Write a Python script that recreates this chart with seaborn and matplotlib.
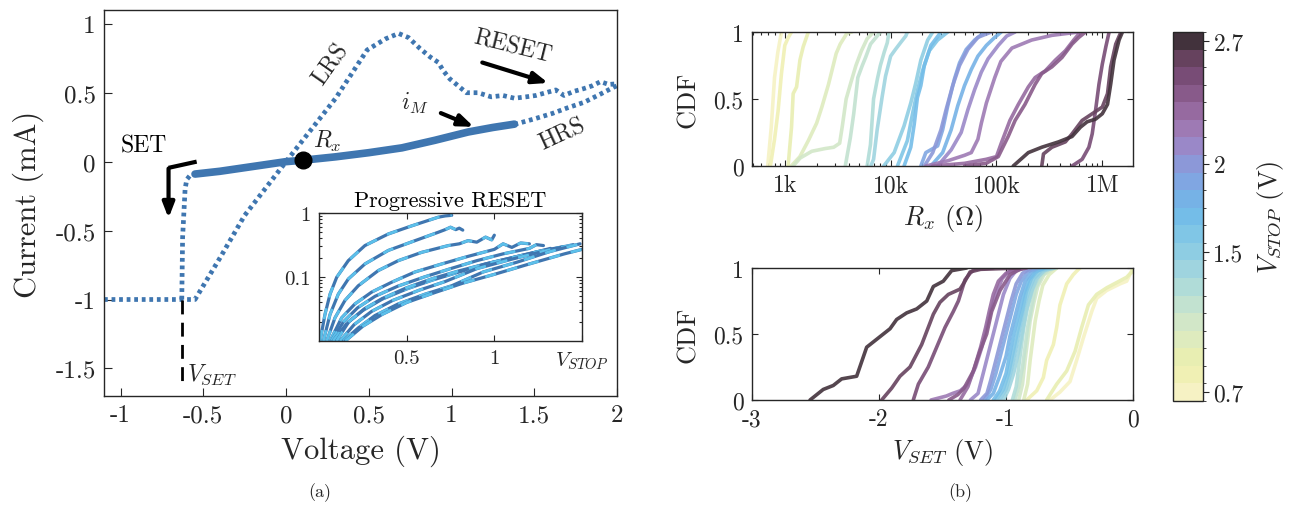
import numpy as np
import pandas as pd
import matplotlib
matplotlib.use("Agg")
import matplotlib.pyplot as plt
import seaborn as sns
from matplotlib.colors import ListedColormap, BoundaryNorm
from matplotlib.cm import ScalarMappable
from matplotlib.ticker import FixedLocator, FixedFormatter, NullFormatter, LogLocator

sns.set_style("ticks")
plt.rcParams['font.family'] = ['cmr10', 'DejaVu Serif']
plt.rcParams['mathtext.fontset'] = 'cm'
plt.rcParams['axes.unicode_minus'] = False
plt.rcParams['axes.formatter.use_mathtext'] = True

# ---------------- panel (a): I-V loop ----------------
lrs_v = [-1.1, -0.55, -0.4, -0.25, 0.0, 0.3, 0.49, 0.6, 0.68, 0.74, 0.81, 0.87, 0.92, 0.95,
         0.99, 1.04, 1.09, 1.16, 1.24, 1.31, 1.38, 1.45, 1.51, 1.57, 1.63, 1.68, 1.74, 1.8,
         1.85, 1.9, 1.95, 2.0]
lrs_i = [-1.0, -1.0, -0.70, -0.39, 0.0, 0.46, 0.81, 0.89, 0.93, 0.90, 0.82, 0.76, 0.72, 0.66,
         0.60, 0.55, 0.50, 0.50, 0.47, 0.48, 0.46, 0.47, 0.48, 0.50, 0.52, 0.48, 0.51, 0.53,
         0.55, 0.58, 0.56, 0.565]
set_v = [-0.63, -0.625, -0.61, -0.6, -0.58, -0.55]
set_i = [-1.0, -0.55, -0.2, -0.13, -0.10, -0.09]
hrs_v = [1.38, 1.5, 1.61, 1.7, 1.8, 1.9, 1.98, 2.0]
hrs_i = [0.27, 0.31, 0.35, 0.39, 0.43, 0.49, 0.54, 0.55]
im_v = [-0.55, -0.4, -0.2, 0.0, 0.1, 0.3, 0.5, 0.7, 0.9, 1.1, 1.25, 1.38]
im_i = [-0.09, -0.07, -0.035, 0.0, 0.01, 0.035, 0.065, 0.10, 0.155, 0.215, 0.248, 0.272]
rx_point = (0.1, 0.01)
vset_x = -0.63

# inset: progressive RESET curves (V, mA)
pr_v1 = [0.006, 0.034, 0.063, 0.101, 0.167, 0.262, 0.395, 0.529, 0.68, 0.72, 0.757]
pr_i1 = [0.01, 0.026, 0.054, 0.099, 0.18, 0.31, 0.47, 0.63, 0.86, 0.9, 0.92]
pr_v2 = [0.025, 0.063, 0.11, 0.167, 0.262, 0.395, 0.548, 0.68, 0.72, 0.75, 0.78, 0.8, 0.82]
pr_i2 = [0.01, 0.026, 0.054, 0.093, 0.16, 0.26, 0.37, 0.5, 0.55, 0.6, 0.55, 0.58, 0.54]
pr_v3 = [0.044, 0.091, 0.148, 0.224, 0.338, 0.452, 0.586, 0.738, 0.8, 0.85, 0.9, 0.95, 0.985, 1.0]
pr_i3 = [0.01, 0.023, 0.043, 0.073, 0.126, 0.18, 0.243, 0.31, 0.33, 0.37, 0.35, 0.42, 0.38, 0.45]
pr_v4 = [0.063, 0.129, 0.205, 0.30, 0.415, 0.548, 0.70, 0.85, 1.0, 1.05, 1.1, 1.15, 1.2]
pr_i4 = [0.01, 0.023, 0.038, 0.058, 0.083, 0.12, 0.16, 0.21, 0.27, 0.33, 0.29, 0.34, 0.33]
pr_v5 = [0.07, 0.14, 0.22, 0.32, 0.45, 0.6, 0.75, 0.9, 1.05, 1.2, 1.24, 1.28]
pr_i5 = [0.01, 0.02, 0.033, 0.05, 0.072, 0.1, 0.135, 0.18, 0.23, 0.28, 0.32, 0.31]
pr_v6 = [0.08, 0.16, 0.25, 0.36, 0.5, 0.65, 0.8, 0.95, 1.1, 1.25, 1.32]
pr_i6 = [0.01, 0.019, 0.03, 0.045, 0.065, 0.09, 0.12, 0.16, 0.2, 0.25, 0.28]
pr_v7 = [0.1, 0.17, 0.26, 0.36, 0.5, 0.65, 0.8, 0.95, 1.1, 1.25, 1.4]
pr_i7 = [0.01, 0.02, 0.032, 0.046, 0.068, 0.095, 0.125, 0.16, 0.2, 0.25, 0.3]
pr_v8 = [0.12, 0.2, 0.3, 0.42, 0.57, 0.72, 0.9, 1.1, 1.3, 1.45]
pr_i8 = [0.01, 0.018, 0.029, 0.043, 0.062, 0.085, 0.135, 0.19, 0.26, 0.32]
pr_v9 = [0.139, 0.224, 0.319, 0.452, 0.605, 0.757, 0.937, 1.128, 1.318, 1.489]
pr_i9 = [0.01, 0.016, 0.025, 0.038, 0.054, 0.073, 0.12, 0.17, 0.25, 0.33]
pr_v10 = [0.15, 0.25, 0.36, 0.5, 0.66, 0.82, 1.0, 1.2, 1.4, 1.5]
pr_i10 = [0.01, 0.017, 0.026, 0.04, 0.057, 0.08, 0.11, 0.16, 0.23, 0.27]

# ---------------- panel (b): CDFs ----------------
vstop_levels = [0.7, 0.8, 0.9, 1.0, 1.1, 1.2, 1.3, 1.4, 1.5, 1.6, 1.7, 1.8, 1.9, 2.0,
                2.1, 2.2, 2.3, 2.4, 2.5, 2.6, 2.7]
vstop_colors = ['#f6f2c4', '#f0f0b4', '#e8eeb2', '#deebbe', '#d2e7c8', '#c2e2d0', '#b0dcd8',
                '#9fd4df', '#8ecde3', '#80c6e6', '#74bde8', '#76b2e6', '#80a6e2', '#8c98d8',
                '#9a88c8', '#9e7ab4', '#966aa0', '#885a8a', '#784c76', '#66425e', '#42323c']

# R_x (ohm) and CDF per V_STOP
rx_07 = [690, 745, 800, 860, 930]
cr_07 = [0, 0.29, 0.66, 0.85, 1]
rx_08 = [731, 800, 864, 930, 1000, 1080, 1157]
cr_08 = [0, 0.2, 0.41, 0.69, 0.90, 0.96, 1]
rx_09 = [1075, 1158, 1200, 1292, 1390, 1493, 1668]
cr_09 = [0, 0.29, 0.54, 0.59, 0.79, 0.89, 1]
rx_10 = [1150, 1390, 1670, 2000, 2240, 2590, 2785, 3060, 3340, 3860, 4300]
cr_10 = [0, 0.07, 0.19, 0.32, 0.44, 0.61, 0.71, 0.84, 0.91, 0.99, 1]
rx_11 = [1200, 1400, 1800, 2400, 2900, 3300, 3500, 3800, 4200, 4700, 5300, 6000, 6900]
cr_11 = [0, 0.06, 0.11, 0.13, 0.14, 0.17, 0.3, 0.5, 0.62, 0.75, 0.86, 0.95, 1]
rx_12 = [3730, 4160, 4480, 4900, 5400, 5800, 6460, 7460, 8000]
cr_12 = [0, 0.21, 0.39, 0.66, 0.75, 0.81, 0.91, 0.97, 1]
rx_13 = [6000, 6450, 6900, 7500, 8000, 8700, 9300, 9640]
cr_13 = [0, 0.16, 0.5, 0.65, 0.75, 0.85, 0.92, 1]
rx_14 = [6500, 6900, 7460, 8330, 8950, 10000, 11100, 12400, 13900, 14400]
cr_14 = [0, 0.05, 0.27, 0.52, 0.67, 0.82, 0.87, 0.92, 0.97, 1]
rx_15 = [8600, 10800, 13400, 15500, 17300, 19300, 22400, 25000]
cr_15 = [0, 0.1, 0.3, 0.47, 0.62, 0.79, 0.94, 1]
rx_16 = [11600, 14400, 16100, 17900, 20000, 23200, 27800, 34700]
cr_16 = [0, 0.19, 0.39, 0.56, 0.71, 0.86, 0.94, 1]
rx_17 = [13400, 15500, 16700, 17900, 19300, 20800, 24000, 26800, 29900]
cr_17 = [0, 0.14, 0.31, 0.51, 0.6, 0.75, 0.9, 0.95, 1]
rx_18 = [24000, 31000, 37300, 43100, 49900, 57800, 66800, 80300, 96400, 111000]
cr_18 = [0, 0.1, 0.27, 0.45, 0.6, 0.72, 0.82, 0.9, 0.96, 1]
rx_19 = [19300, 21500, 27800, 31000, 34700, 40100, 44800, 51800, 62200, 77500]
cr_19 = [0, 0.1, 0.15, 0.27, 0.45, 0.65, 0.77, 0.87, 0.94, 1]
rx_20 = [20800, 25000, 29900, 33400, 38600, 44800, 53700, 66800, 89500]
cr_20 = [0, 0.1, 0.27, 0.42, 0.6, 0.75, 0.87, 0.96, 1]
rx_21 = [27800, 37300, 46400, 53700, 62200, 71900, 83300, 104000, 125000, 150000]
cr_21 = [0, 0.12, 0.25, 0.42, 0.57, 0.7, 0.8, 0.9, 0.97, 1]
rx_22 = [21500, 35000, 50000, 57800, 66800, 72000, 80300, 96400, 110000, 140000, 215000, 334000, 600000]
cr_22 = [0, 0.04, 0.08, 0.1, 0.2, 0.32, 0.47, 0.66, 0.78, 0.88, 0.94, 0.975, 1]
rx_23 = [25000, 50000, 80000, 100000, 111000, 134000, 161000, 200000, 232000, 289000, 360000, 448000, 537000, 622000]
cr_23 = [0, 0.02, 0.05, 0.07, 0.17, 0.34, 0.46, 0.59, 0.66, 0.71, 0.79, 0.86, 0.94, 1]
rx_24 = [50000, 80000, 104000, 129000, 150000, 186000, 232000, 268000, 334000, 416000, 518000, 600000, 694000]
cr_24 = [0, 0.02, 0.07, 0.22, 0.34, 0.46, 0.61, 0.69, 0.74, 0.81, 0.91, 0.96, 1]
rx_25 = [518000, 645000, 747000, 803000, 865000, 930000, 1000000, 1080000, 1160000]
cr_25 = [0, 0.05, 0.14, 0.24, 0.42, 0.61, 0.76, 0.89, 1]
rx_26 = [268000, 278000, 334000, 448000, 518000, 645000, 803000, 1000000, 1120000, 1200000, 1340000, 1500000]
cr_26 = [0, 0.09, 0.14, 0.18, 0.24, 0.34, 0.39, 0.44, 0.54, 0.74, 0.91, 1]
rx_27 = [144000, 200000, 268000, 386000, 518000, 622000, 719000, 865000, 1000000, 1120000, 1200000, 1290000, 1440000, 1550000]
cr_27 = [0, 0.1, 0.14, 0.18, 0.22, 0.29, 0.33, 0.35, 0.39, 0.46, 0.61, 0.79, 0.94, 1]

# V_SET (V) and CDF per V_STOP
vs_07 = [-0.653, -0.575, -0.496, -0.444, -0.391, -0.325, -0.286, -0.207, -0.102, -0.05, 0.0]
cv_07 = [0, 0.06, 0.14, 0.3, 0.47, 0.67, 0.77, 0.83, 0.88, 0.9, 1]
vs_08 = [-0.837, -0.758, -0.706, -0.68, -0.627, -0.601, -0.575, -0.522, -0.47, -0.43, -0.417]
cv_08 = [0, 0.07, 0.17, 0.30, 0.42, 0.55, 0.72, 0.88, 0.95, 0.99, 1]
vs_09 = [-0.68, -0.601, -0.522, -0.456, -0.404, -0.351, -0.286, -0.207, -0.128, -0.05, -0.01, 0.0]
cv_09 = [0, 0.12, 0.22, 0.37, 0.55, 0.72, 0.8, 0.85, 0.89, 0.93, 0.97, 1]
vs_10 = [-0.86, -0.83, -0.81, -0.79, -0.77, -0.74, -0.71, -0.66, -0.6]
cv_10 = [0, 0.12, 0.3, 0.45, 0.6, 0.75, 0.87, 0.95, 1]
vs_11 = [-0.9, -0.87, -0.85, -0.83, -0.81, -0.78, -0.75, -0.7, -0.62]
cv_11 = [0, 0.12, 0.3, 0.45, 0.6, 0.74, 0.86, 0.95, 1]
vs_12 = [-0.93, -0.9, -0.87, -0.85, -0.83, -0.8, -0.77, -0.72, -0.66, -0.6]
cv_12 = [0, 0.1, 0.25, 0.4, 0.55, 0.7, 0.84, 0.94, 0.99, 1]
vs_13 = [-0.95, -0.92, -0.9, -0.88, -0.86, -0.83, -0.79, -0.74, -0.68, -0.62]
cv_13 = [0, 0.1, 0.25, 0.4, 0.55, 0.7, 0.84, 0.94, 0.99, 1]
vs_14 = [-1.02, -0.98, -0.94, -0.9, -0.87, -0.84, -0.8, -0.76, -0.7, -0.62]
cv_14 = [0, 0.08, 0.2, 0.37, 0.52, 0.68, 0.82, 0.92, 0.98, 1]
vs_15 = [-1.05, -1.0, -0.96, -0.92, -0.89, -0.86, -0.82, -0.78, -0.72, -0.65]
cv_15 = [0, 0.08, 0.22, 0.4, 0.55, 0.7, 0.83, 0.92, 0.98, 1]
vs_16 = [-1.08, -1.02, -0.98, -0.94, -0.91, -0.87, -0.84, -0.8, -0.75, -0.68]
cv_16 = [0, 0.08, 0.2, 0.38, 0.52, 0.68, 0.82, 0.92, 0.98, 1]
vs_17 = [-1.1, -1.05, -1.0, -0.97, -0.94, -0.9, -0.86, -0.82, -0.77, -0.7]
cv_17 = [0, 0.07, 0.2, 0.35, 0.5, 0.65, 0.8, 0.91, 0.97, 1]
vs_18 = [-1.15, -1.1, -1.05, -1.0, -0.97, -0.93, -0.89, -0.85, -0.8, -0.74]
cv_18 = [0, 0.05, 0.18, 0.33, 0.48, 0.63, 0.78, 0.9, 0.97, 1]
vs_19 = [-1.17, -1.12, -1.08, -1.04, -1.0, -0.96, -0.92, -0.88, -0.83, -0.76]
cv_19 = [0, 0.08, 0.2, 0.35, 0.5, 0.65, 0.8, 0.9, 0.97, 1]
vs_20 = [-1.2, -1.15, -1.12, -1.08, -1.04, -1.0, -0.96, -0.92, -0.87, -0.8]
cv_20 = [0, 0.05, 0.15, 0.3, 0.45, 0.6, 0.75, 0.88, 0.96, 1]
vs_21 = [-1.28, -1.22, -1.18, -1.14, -1.1, -1.06, -1.02, -0.97, -0.92, -0.85]
cv_21 = [0, 0.05, 0.2, 0.35, 0.5, 0.65, 0.8, 0.92, 0.98, 1]
vs_22 = [-1.59, -1.47, -1.42, -1.36, -1.3, -1.24, -1.19, -1.15, -1.12, -1.08, -1.03, -0.97, -0.85]
cv_22 = [0, 0.03, 0.05, 0.07, 0.12, 0.25, 0.4, 0.55, 0.67, 0.8, 0.92, 0.98, 1]
vs_23 = [-1.362, -1.3, -1.25, -1.2, -1.16, -1.13, -1.1, -1.06, -1.0, -0.92, -0.87]
cv_23 = [0, 0.1, 0.24, 0.4, 0.55, 0.68, 0.8, 0.9, 0.96, 0.99, 1]
vs_24 = [-1.45, -1.38, -1.33, -1.257, -1.205, -1.152, -1.113, -1.047, -0.968, -0.89, -0.837]
cv_24 = [0, 0.04, 0.09, 0.22, 0.37, 0.50, 0.67, 0.83, 0.95, 0.99, 1]
vs_25 = [-1.73, -1.69, -1.612, -1.546, -1.48, -1.415, -1.375, -1.349, -1.323, -1.283, -1.25, -1.1]
cv_25 = [0, 0.12, 0.25, 0.4, 0.55, 0.67, 0.75, 0.83, 0.91, 0.96, 0.99, 1]
vs_26 = [-1.979, -1.9, -1.835, -1.756, -1.664, -1.612, -1.572, -1.52, -1.454, -1.362, -1.323, -1.283, -1.2, -0.89]
cv_26 = [0, 0.09, 0.18, 0.25, 0.42, 0.55, 0.65, 0.74, 0.8, 0.84, 0.9, 0.97, 0.99, 1]
vs_27 = [-2.543, -2.439, -2.36, -2.294, -2.176, -2.097, -2.005, -1.913, -1.861, -1.782, -1.703,
         -1.624, -1.572, -1.494, -1.428, -1.31]
cv_27 = [0, 0.08, 0.11, 0.16, 0.18, 0.40, 0.47, 0.54, 0.61, 0.66, 0.69, 0.75, 0.86, 0.9, 0.98, 1]

rx_curves = [(rx_07, cr_07), (rx_08, cr_08), (rx_09, cr_09), (rx_10, cr_10), (rx_11, cr_11),
             (rx_12, cr_12), (rx_13, cr_13), (rx_14, cr_14), (rx_15, cr_15), (rx_16, cr_16),
             (rx_17, cr_17), (rx_18, cr_18), (rx_19, cr_19), (rx_20, cr_20), (rx_21, cr_21),
             (rx_22, cr_22), (rx_23, cr_23), (rx_24, cr_24), (rx_25, cr_25), (rx_26, cr_26),
             (rx_27, cr_27)]
vs_curves = [(vs_07, cv_07), (vs_08, cv_08), (vs_09, cv_09), (vs_10, cv_10), (vs_11, cv_11),
             (vs_12, cv_12), (vs_13, cv_13), (vs_14, cv_14), (vs_15, cv_15), (vs_16, cv_16),
             (vs_17, cv_17), (vs_18, cv_18), (vs_19, cv_19), (vs_20, cv_20), (vs_21, cv_21),
             (vs_22, cv_22), (vs_23, cv_23), (vs_24, cv_24), (vs_25, cv_25), (vs_26, cv_26),
             (vs_27, cv_27)]

main_xticks = [-1, -0.5, 0, 0.5, 1, 1.5, 2]
main_xlabels = ['-1', '-0.5', '0', '0.5', '1', '1.5', '2']
main_yticks = [-1.5, -1, -0.5, 0, 0.5, 1]
main_ylabels = ['-1.5', '-1', '-0.5', '0', '0.5', '1']
rx_ticks = [1e3, 1e4, 1e5, 1e6]
rx_labels = ['1k', '10k', '100k', '1M']
vs_ticks = [-3, -2, -1, 0]
vs_labels = ['-3', '-2', '-1', '0']
cdf_ticks = [0, 0.5, 1]
cdf_labels = ['0', '0.5', '1']
cb_ticks = [0.7, 1.5, 2, 2.7]
cb_labels = ['0.7', '1.5', '2', '2.7']

# ---------------- drawing ----------------
W, H = 1291, 510
fig = plt.figure(figsize=(W / 100, H / 100), dpi=100)


def rect(x0, y0, x1, y1):
    return [x0 / W, 1 - y1 / H, (x1 - x0) / W, (y1 - y0) / H]


AX_C = '#262626'
BLUE = '#3f76b0'
LBLUE = '#5cc0ea'
TICK_FS = 17
LAB_FS = 19


def style_axes(ax, fs=TICK_FS, top=False, right=False, length=4):
    for s in ax.spines.values():
        s.set_color(AX_C)
        s.set_linewidth(1.0)
        s.set_visible(True)
    ax.tick_params(direction='in', which='both', top=top, right=right,
                   labelsize=fs, colors=AX_C, length=length, width=0.8, pad=6)


ax = fig.add_axes(rect(104, 11, 617, 397))
sns.lineplot(x=lrs_v, y=lrs_i, ax=ax, sort=False, estimator=None, color=BLUE, lw=3.4,
             linestyle=(0, (0.8, 0.8)))
sns.lineplot(x=set_v, y=set_i, ax=ax, sort=False, estimator=None, color=BLUE, lw=3.4,
             linestyle=(0, (0.8, 0.8)))
sns.lineplot(x=hrs_v, y=hrs_i, ax=ax, sort=False, estimator=None, color=BLUE, lw=3.4,
             linestyle=(0, (0.8, 0.8)))
sns.lineplot(x=im_v, y=im_i, ax=ax, sort=False, estimator=None, color=BLUE, lw=5.5,
             solid_capstyle='round')
ax.plot([rx_point[0]], [rx_point[1]], 'o', color='black', ms=12, zorder=5)
ax.plot([vset_x, vset_x], [-1.0, -1.63], color='black', lw=2, linestyle=(0, (5, 3)))
ax.set_xlim(-1.1, 2)
ax.set_ylim(-1.7, 1.1)
ax.xaxis.set_major_locator(FixedLocator(main_xticks))
ax.xaxis.set_major_formatter(FixedFormatter(main_xlabels))
ax.yaxis.set_major_locator(FixedLocator(main_yticks))
ax.yaxis.set_major_formatter(FixedFormatter(main_ylabels))
style_axes(ax, fs=18, length=6)
ax.set_xlabel('Voltage (V)', fontsize=22, color=AX_C, labelpad=6)
ax.set_ylabel('Current (mA)', fontsize=22, color=AX_C, labelpad=8)

TXT = 17
ax.text(-0.86, 0.12, 'SET', fontsize=TXT, ha='center', va='center', color='black')
ax.plot([-0.54, -0.71], [0.0, -0.045], color='black', lw=3, solid_capstyle='butt')
ax.annotate('', xy=(-0.71, -0.43), xytext=(-0.71, -0.03),
            arrowprops=dict(arrowstyle='-|>,head_length=0.9,head_width=0.35', color='black', lw=3))
ax.text(0.27, 0.71, 'LRS', fontsize=TXT, ha='center', va='center', rotation=55)
ax.text(1.37, 0.84, 'RESET', fontsize=TXT, ha='center', va='center', rotation=-14)
ax.annotate('', xy=(1.6, 0.565), xytext=(1.17, 0.725),
            arrowprops=dict(arrowstyle='-|>,head_length=0.9,head_width=0.35', color='black', lw=3))
ax.text(0.78, 0.43, '$i_M$', fontsize=TXT, ha='center', va='center')
ax.annotate('', xy=(1.15, 0.245), xytext=(0.92, 0.36),
            arrowprops=dict(arrowstyle='-|>,head_length=0.9,head_width=0.35', color='black', lw=3))
ax.text(1.67, 0.2, 'HRS', fontsize=TXT, ha='center', va='center', rotation=25)
ax.text(0.25, 0.15, '$R_x$', fontsize=TXT, ha='center', va='center')
ax.text(-0.6, -1.54, '$V_{SET}$', fontsize=TXT, ha='left', va='center')

# inset
axi = fig.add_axes(rect(319, 214, 582, 342))
pr_curves = [(pr_v1, pr_i1), (pr_v2, pr_i2), (pr_v3, pr_i3), (pr_v4, pr_i4), (pr_v5, pr_i5),
             (pr_v6, pr_i6), (pr_v7, pr_i7), (pr_v8, pr_i8), (pr_v9, pr_i9), (pr_v10, pr_i10)]
for k, (v, i) in enumerate(pr_curves):
    sns.lineplot(x=v, y=i, ax=axi, sort=False, estimator=None, color=BLUE, lw=2.3)
    sns.lineplot(x=v, y=i, ax=axi, sort=False, estimator=None, color=LBLUE, lw=2.0,
                 linestyle=(0, (4, 4)))
axi.set_yscale('log')
axi.set_xlim(0, 1.5)
axi.set_ylim(0.01, 1)
axi.xaxis.set_major_locator(FixedLocator([0.5, 1, 1.5]))
axi.xaxis.set_major_formatter(FixedFormatter(['0.5', '1', '$V_{STOP}$']))
axi.yaxis.set_major_locator(FixedLocator([0.1, 1]))
axi.yaxis.set_major_formatter(FixedFormatter(['0.1', '1']))
axi.yaxis.set_minor_locator(LogLocator(base=10, subs=np.arange(2, 10)))
axi.yaxis.set_minor_formatter(NullFormatter())
style_axes(axi, fs=15, top=True, right=True, length=4)
axi.tick_params(which='minor', length=2)
axi.set_title('Progressive RESET', fontsize=16, color='black', pad=5)

# top CDF (R_x)
ax1 = fig.add_axes(rect(752, 33, 1133, 167))
for (r, c), col in zip(rx_curves, vstop_colors):
    sns.lineplot(x=r, y=c, ax=ax1, sort=False, estimator=None, color=col, lw=2.6, alpha=0.9)
ax1.set_xscale('log')
ax1.set_xlim(490, 1.95e6)
ax1.set_ylim(0, 1)
ax1.xaxis.set_major_locator(FixedLocator(rx_ticks))
ax1.xaxis.set_major_formatter(FixedFormatter(rx_labels))
ax1.xaxis.set_minor_locator(LogLocator(base=10, subs=np.arange(2, 10)))
ax1.xaxis.set_minor_formatter(NullFormatter())
ax1.yaxis.set_major_locator(FixedLocator(cdf_ticks))
ax1.yaxis.set_major_formatter(FixedFormatter(cdf_labels))
style_axes(ax1, top=True, right=True, length=4)
ax1.tick_params(which='minor', length=2)
ax1.set_xlabel('$R_x$ ($\\Omega$)', fontsize=LAB_FS, color=AX_C, labelpad=4)
ax1.set_ylabel('CDF', fontsize=LAB_FS, color=AX_C, labelpad=10)

# bottom CDF (V_SET)
ax2 = fig.add_axes(rect(752, 269, 1133, 401))
for (v, c), col in zip(vs_curves, vstop_colors):
    sns.lineplot(x=v, y=c, ax=ax2, sort=False, estimator=None, color=col, lw=2.6, alpha=0.9)
ax2.set_xlim(-3, 0)
ax2.set_ylim(0, 1)
ax2.xaxis.set_major_locator(FixedLocator(vs_ticks))
ax2.xaxis.set_major_formatter(FixedFormatter(vs_labels))
ax2.yaxis.set_major_locator(FixedLocator(cdf_ticks))
ax2.yaxis.set_major_formatter(FixedFormatter(cdf_labels))
style_axes(ax2, top=True, right=True, length=4)
ax2.set_xlabel('$V_{SET}$ (V)', fontsize=LAB_FS, color=AX_C, labelpad=4)
ax2.set_ylabel('CDF', fontsize=LAB_FS, color=AX_C, labelpad=10)

# colorbar
cax = fig.add_axes(rect(1173, 33, 1203, 402))
bounds = np.round(np.arange(0.65, 2.76, 0.1), 2)
cmap = ListedColormap(vstop_colors)
norm = BoundaryNorm(bounds, cmap.N)
cb = fig.colorbar(ScalarMappable(norm=norm, cmap=cmap), cax=cax, ticks=cb_ticks)
cb.ax.set_yticklabels(cb_labels)
cb.ax.tick_params(labelsize=TICK_FS, direction='out', length=4, colors=AX_C)
cb.outline.set_linewidth(1.0)
cb.outline.set_edgecolor(AX_C)
cb.set_label('$V_{STOP}$ (V)', fontsize=LAB_FS, color=AX_C, labelpad=8)

fig.text(320 / W, 1 - 493 / H, '(a)', fontsize=13, ha='center', va='center')
fig.text(960 / W, 1 - 493 / H, '(b)', fontsize=13, ha='center', va='center')

fig.savefig('out.png', dpi=100)
